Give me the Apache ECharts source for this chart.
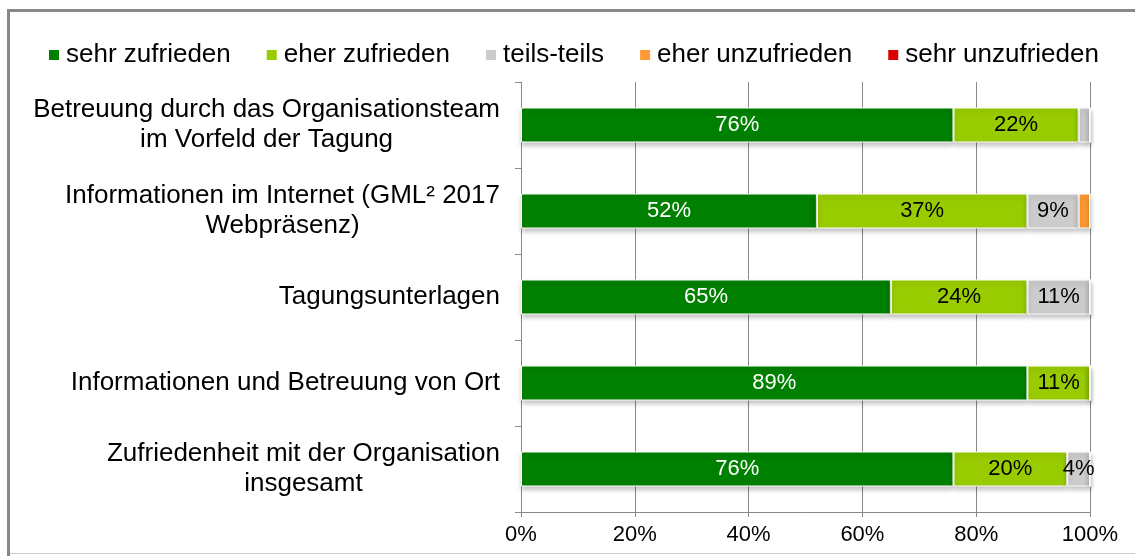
<!DOCTYPE html>
<html>
<head>
<meta charset="utf-8">
<script src="https://cdn.jsdelivr.net/npm/echarts@6/dist/echarts.min.js"></script>
<style>
  html, body { margin: 0; padding: 0; background: #fff; overflow: hidden; width: 1135px; height: 556px; }
  #frame {
    position: absolute; left: 7px; top: 9px; width: 1140px; height: 560px;
    border-left: 3px solid #888; border-top: 3px solid #888; box-sizing: border-box;
  }
  #bottomline { position: absolute; left: 10px; top: 553px; width: 1125px; height: 1px; background: #ccc; }
  #chart { position: absolute; left: 0; top: 0; width: 1135px; height: 556px; }
</style>
</head>
<body>
<div id="frame"></div>
<div id="bottomline"></div>
<div id="chart"></div>
<script>
// Kategorien von oben nach unten
const categories = [
  'Betreuung durch das Organisationsteam\nim Vorfeld der Tagung',
  'Informationen im Internet (GML² 2017\nWebpräsenz)',
  'Tagungsunterlagen',
  'Informationen und Betreuung von Ort',
  'Zufriedenheit mit der Organisation\ninsgesamt'
]
const seriesNames = ['sehr zufrieden', 'eher zufrieden', 'teils-teils', 'eher unzufrieden', 'sehr unzufrieden']
const sehrZufrieden = [76, 52, 65, 89, 76]
const eherZufrieden = [22, 37, 24, 11, 20]
const teilsTeils = [2, 9, 11, 0, 4]
const eherUnzufrieden = [0, 2, 0, 0, 0]
const sehrUnzufrieden = [0, 0, 0, 0, 0]
const xTicks = [0, 20, 40, 60, 80, 100]

const colors = ['#008000', '#99cc00', '#cccccc', '#ff9933', '#dd0000']
const values = [sehrZufrieden, eherZufrieden, teilsTeils, eherUnzufrieden, sehrUnzufrieden]

const FONT = 'Liberation Sans, Arial, sans-serif'

let chart = echarts.init(document.getElementById('chart'))

let option = {
  animation: false,
  textStyle: { fontFamily: FONT },
  legend: {
    left: 42,
    top: 37,
    itemWidth: 12,
    itemHeight: 12,
    itemGap: 34,
    icon: 'rect',
    textStyle: { fontSize: 26, color: '#000', fontFamily: FONT, padding: [0, 0, 0, 1] },
    data: seriesNames
  },
  grid: {
    left: 521,
    right: 45,
    top: 82,
    bottom: 44
  },
  xAxis: {
    type: 'value',
    min: 0,
    max: 100,
    interval: 20,
    axisLine: { show: true, lineStyle: { color: '#888', width: 1 } },
    axisTick: { show: true, length: 5, lineStyle: { color: '#888' } },
    splitLine: { show: true, lineStyle: { color: '#888', width: 1 } },
    axisLabel: {
      fontSize: 22,
      color: '#000',
      margin: 12,
      formatter: v => (xTicks.indexOf(v) >= 0 ? v + '%' : '')
    }
  },
  yAxis: {
    type: 'category',
    inverse: true,
    data: categories,
    axisLine: { show: true, lineStyle: { color: '#888', width: 1 } },
    axisTick: { show: true, length: 6, lineStyle: { color: '#888' } },
    axisLabel: {
      margin: 21,
      color: '#000',
      formatter: v => v.split('\n').map(s => '{c|' + s + '}').join('\n'),
      rich: {
        c: { fontSize: 26, align: 'center', lineHeight: 30, color: '#000', fontFamily: FONT }
      }
    }
  },
  series: seriesNames.map((name, i) => ({
    name: name,
    type: 'bar',
    stack: 'total',
    barWidth: 35,
    data: values[i],
    itemStyle: {
      color: colors[i],
      borderColor: '#fff',
      borderWidth: 1,
      shadowBlur: 5,
      shadowOffsetY: 3,
      shadowColor: 'rgba(0,0,0,0.25)'
    },
    label: {
      show: true,
      position: 'inside',
      fontSize: 22,
      color: i === 0 ? '#fff' : '#000',
      formatter: p => (p.value >= 4 ? p.value + '%' : '')
    }
  }))
}

chart.setOption(option)
</script>
</body>
</html>
